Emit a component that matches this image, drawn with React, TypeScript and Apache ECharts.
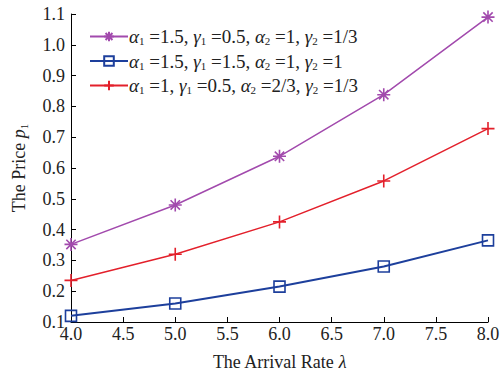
import React, { useEffect, useRef } from "react";
import * as echarts from "echarts";

const xValues = [4, 5, 6, 7, 8];
const purpleValues = [0.352, 0.48, 0.638, 0.838, 1.09];
const blueValues = [0.12, 0.16, 0.215, 0.28, 0.365];
const redValues = [0.235, 0.32, 0.425, 0.558, 0.728];

const seriesNames = ["s1", "s2", "s3"];
const legendTexts = [
  "{a|α}{s|1}{t| =1.5, }{a|γ}{s|1}{t| =0.5, }{a|α}{s|2}{t| =1, }{a|γ}{s|2}{t| =1/3}",
  "{a|α}{s|1}{t| =1.5, }{a|γ}{s|1}{t| =1.5, }{a|α}{s|2}{t| =1, }{a|γ}{s|2}{t| =1}",
  "{a|α}{s|1}{t| =1, }{a|γ}{s|1}{t| =0.5, }{a|α}{s|2}{t| =2/3, }{a|γ}{s|2}{t| =1/3}",
];

const PURPLE = "#a24aad";
const BLUE = "#1d3f9c";
const RED = "#e3202b";
const FONT = "'Liberation Serif', 'Times New Roman', serif";
const TXT = "#222";

const star = "path://M0,-1L0,1M-1,0L1,0M-0.72,-0.72L0.72,0.72M-0.72,0.72L0.72,-0.72";
const plus = "path://M0,-1L0,1M-1,0L1,0";
const square = "path://M-1,-1L1,-1L1,1L-1,1Z";

export default function App() {
  const ref = useRef<HTMLDivElement>(null);
  useEffect(() => {
    const chart = echarts.init(ref.current!, null, { renderer: "svg" });
    const mk = (vals: number[]) => vals.map((v, i) => [xValues[i], v]);
    const rich = {
      a: { fontFamily: FONT, fontStyle: "italic", fontSize: 19, color: TXT },
      s: { fontFamily: FONT, fontSize: 11, color: TXT, padding: [9, 0, 0, 0] },
      t: { fontFamily: FONT, fontSize: 19, color: TXT },
    };
    chart.setOption({
      animation: false,
      backgroundColor: "#fff",
      grid: { left: 71, right: 12, top: 14, bottom: 54, containLabel: false, outerBoundsMode: "none" },
      legend: {
        orient: "vertical",
        left: 84,
        top: 22,
        itemWidth: 38,
        itemHeight: 12,
        itemGap: 5,
        data: seriesNames,
        formatter: (name: string) => legendTexts[seriesNames.indexOf(name)],
        textStyle: { rich, fontFamily: FONT, fontSize: 19, padding: [0, 0, 0, -4] },
      },
      xAxis: {
        type: "value",
        min: 4,
        max: 8,
        interval: 0.5,
        name: "{t|The Arrival Rate }{a|λ}",
        nameLocation: "middle",
        nameGap: 31,
        nameTextStyle: {
          rich: {
            t: { fontFamily: FONT, fontSize: 18, color: TXT },
            a: { fontFamily: FONT, fontStyle: "italic", fontSize: 18, color: TXT },
          },
        },
        axisLine: { lineStyle: { color: "#000", width: 1 } },
        axisTick: { inside: true, length: 5, lineStyle: { color: "#000" } },
        axisLabel: { fontFamily: FONT, fontSize: 18, color: TXT, margin: 3, formatter: (v: number) => v.toFixed(1) },
        splitLine: { show: false },
      },
      yAxis: {
        type: "value",
        min: 0.1,
        max: 1.1,
        interval: 0.1,
        name: "{t|The Price }{a|p}{s|1}",
        nameLocation: "middle",
        nameRotate: 90,
        nameGap: 42,
        nameTextStyle: {
          rich: {
            t: { fontFamily: FONT, fontSize: 18, color: TXT },
            a: { fontFamily: FONT, fontStyle: "italic", fontSize: 18, color: TXT },
            s: { fontFamily: FONT, fontSize: 11, color: TXT, padding: [9, 0, 0, 0] },
          },
        },
        axisLine: { show: true, lineStyle: { color: "#000", width: 1 } },
        axisTick: { show: true, inside: true, length: 5, lineStyle: { color: "#000" } },
        axisLabel: { fontFamily: FONT, fontSize: 18, color: TXT, margin: 6, formatter: (v: number) => v.toFixed(1) },
        splitLine: { show: false },
      },
      series: [
        {
          name: "s1",
          type: "line",
          data: mk(purpleValues),
          symbol: star,
          symbolSize: 13,
          lineStyle: { color: PURPLE, width: 1.5 },
          itemStyle: { color: "none", borderColor: PURPLE, borderWidth: 1.6 },
        },
        {
          name: "s2",
          type: "line",
          data: mk(blueValues),
          symbol: square,
          symbolSize: 11,
          lineStyle: { color: BLUE, width: 2 },
          itemStyle: { color: "none", borderColor: BLUE, borderWidth: 1.6 },
        },
        {
          name: "s3",
          type: "line",
          data: mk(redValues),
          symbol: plus,
          symbolSize: 13,
          lineStyle: { color: RED, width: 1.5 },
          itemStyle: { color: "none", borderColor: RED, borderWidth: 1.6 },
        },
      ],
    });
    return () => chart.dispose();
  }, []);
  return <div ref={ref} style={{ width: 500, height: 376, position: "absolute", left: 0, top: 0 }} />;
}
